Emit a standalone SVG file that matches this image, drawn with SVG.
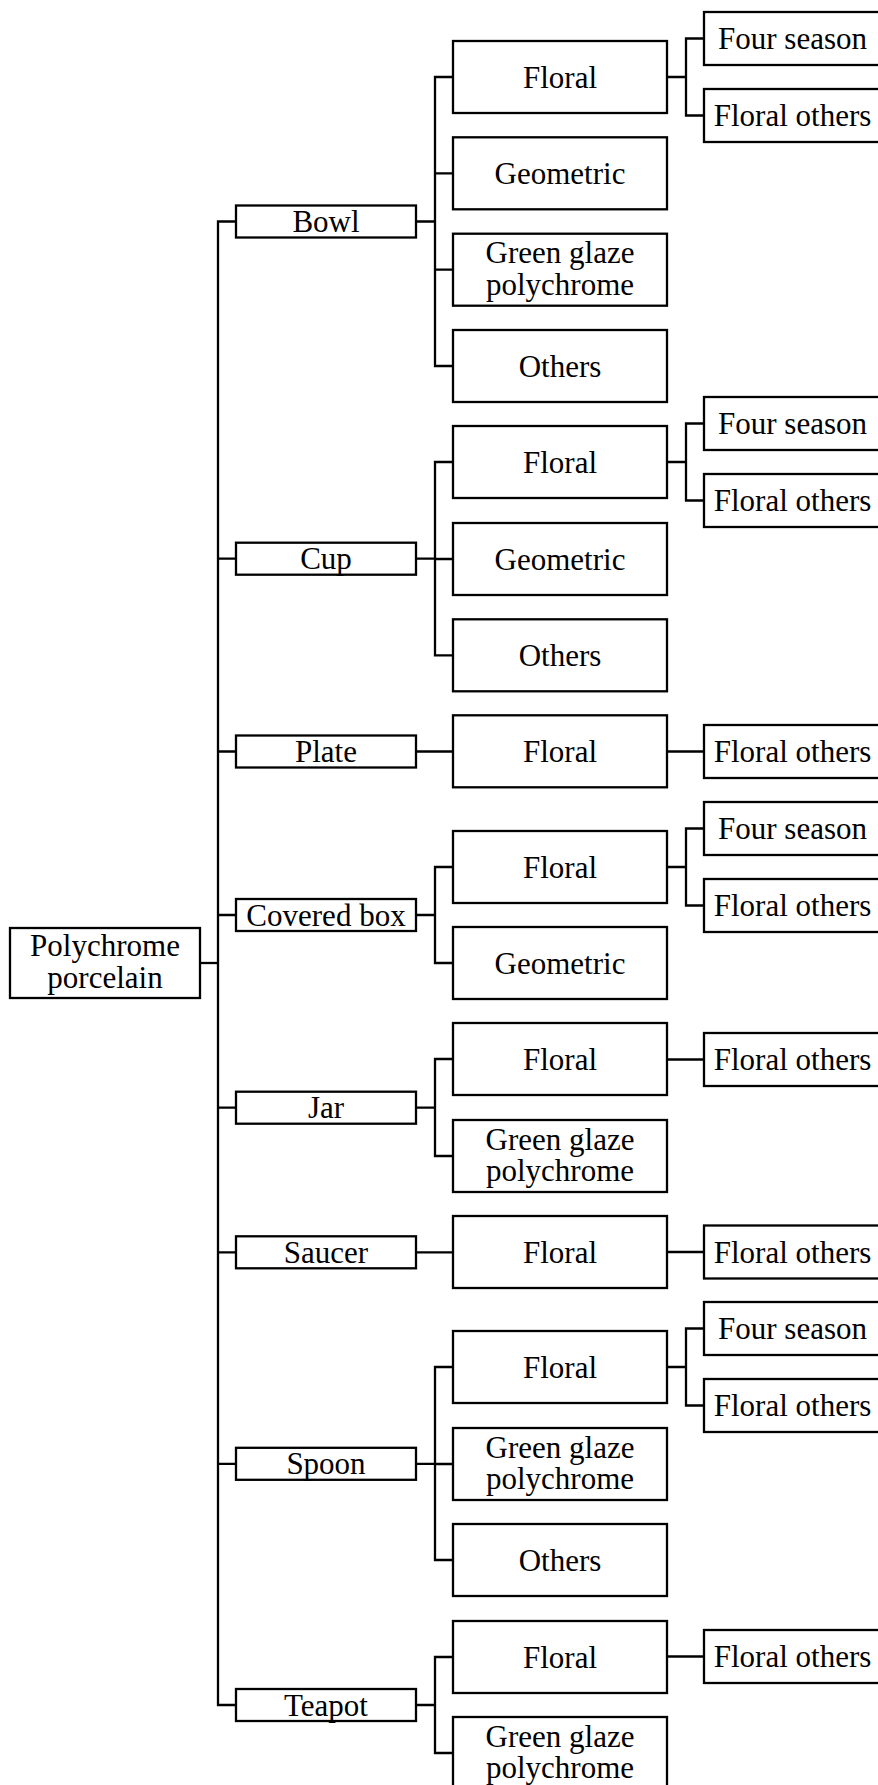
<svg xmlns="http://www.w3.org/2000/svg" width="878" height="1785" viewBox="0 0 878 1785">
<style>
.b{fill:#fff;stroke:#000;stroke-width:2.3}
.t{font-family:"Liberation Serif","Times New Roman",serif;font-size:31px;text-anchor:middle;fill:#000}
.c{fill:none;stroke:#000;stroke-width:2.3;stroke-linejoin:miter}
</style>
<rect width="878" height="1785" fill="#fff"/>
<g id="connectors" class="c">
<path d="M201,963 H218"/>
<path d="M235,221.5 H218 V1705 H235"/>
<path d="M218,558.7 H235 M218,751.5 H235 M218,915 H235 M218,1107.7 H235 M218,1252.3 H235 M218,1463.8 H235"/>
<path d="M417,221.5 H435 M452,77 H435 V366 H452 M435,173.3 H452 M435,269.7 H452"/>
<path d="M668,77 H686 M703,38.5 H686 V115.5 H703"/>
<path d="M417,558.7 H435 M452,462 H435 V655.3 H452 M435,559 H452"/>
<path d="M668,462 H686 M703,423.5 H686 V500.5 H703"/>
<path d="M417,751.5 H452 M668,751.5 H703"/>
<path d="M417,915 H435 M452,867 H435 V963 H452"/>
<path d="M668,867 H686 M703,828.5 H686 V905.5 H703"/>
<path d="M417,1107.7 H435 M452,1059 H435 V1156 H452"/>
<path d="M668,1059.5 H703"/>
<path d="M417,1252.3 H452 M668,1252 H703"/>
<path d="M417,1463.8 H435 M452,1367 H435 V1560 H452 M435,1464 H452"/>
<path d="M668,1367 H686 M703,1328.5 H686 V1405.5 H703"/>
<path d="M417,1705 H435 M452,1657 H435 V1753 H452"/>
<path d="M668,1656.5 H703"/>
</g>
<g id="root"><rect class="b" x="10" y="928" width="190" height="70"/><text class="t" x="105" y="956">Polychrome</text><text class="t" x="105" y="988">porcelain</text></g>

<g id="bowl"><rect class="b" x="236" y="205.5" width="180" height="32"/><text class="t" x="326" y="232">Bowl</text></g>
<g id="bowl-floral"><rect class="b" x="453" y="41" width="214" height="72"/><text class="t" x="560" y="87.5">Floral</text></g>
<g id="bowl-floral-four"><rect class="b" x="704" y="12" width="177" height="53"/><text class="t" x="792.5" y="49">Four season</text></g>
<g id="bowl-floral-others"><rect class="b" x="704" y="89" width="177" height="53"/><text class="t" x="792.5" y="126">Floral others</text></g>
<g id="bowl-geometric"><rect class="b" x="453" y="137.3" width="214" height="72"/><text class="t" x="560" y="183.8">Geometric</text></g>
<g id="bowl-green"><rect class="b" x="453" y="233.7" width="214" height="72"/><text class="t" x="560" y="263.3">Green glaze</text><text class="t" x="560" y="295">polychrome</text></g>
<g id="bowl-others"><rect class="b" x="453" y="330" width="214" height="72"/><text class="t" x="560" y="376.5">Others</text></g>

<g id="cup"><rect class="b" x="236" y="542.7" width="180" height="32"/><text class="t" x="326" y="569.2">Cup</text></g>
<g id="cup-floral"><rect class="b" x="453" y="426" width="214" height="72"/><text class="t" x="560" y="472.5">Floral</text></g>
<g id="cup-floral-four"><rect class="b" x="704" y="397" width="177" height="53"/><text class="t" x="792.5" y="434">Four season</text></g>
<g id="cup-floral-others"><rect class="b" x="704" y="474" width="177" height="53"/><text class="t" x="792.5" y="511">Floral others</text></g>
<g id="cup-geometric"><rect class="b" x="453" y="523" width="214" height="72"/><text class="t" x="560" y="569.5">Geometric</text></g>
<g id="cup-others"><rect class="b" x="453" y="619.3" width="214" height="72"/><text class="t" x="560" y="665.8">Others</text></g>

<g id="plate"><rect class="b" x="236" y="735.5" width="180" height="32"/><text class="t" x="326" y="762">Plate</text></g>
<g id="plate-floral"><rect class="b" x="453" y="715.3" width="214" height="72"/><text class="t" x="560" y="761.8">Floral</text></g>
<g id="plate-floral-others"><rect class="b" x="704" y="725" width="177" height="53"/><text class="t" x="792.5" y="762">Floral others</text></g>

<g id="covered-box"><rect class="b" x="236" y="899" width="180" height="32"/><text class="t" x="326" y="925.5">Covered box</text></g>
<g id="cb-floral"><rect class="b" x="453" y="831" width="214" height="72"/><text class="t" x="560" y="877.5">Floral</text></g>
<g id="cb-floral-four"><rect class="b" x="704" y="802" width="177" height="53"/><text class="t" x="792.5" y="839">Four season</text></g>
<g id="cb-floral-others"><rect class="b" x="704" y="879" width="177" height="53"/><text class="t" x="792.5" y="916">Floral others</text></g>
<g id="cb-geometric"><rect class="b" x="453" y="927" width="214" height="72"/><text class="t" x="560" y="973.5">Geometric</text></g>

<g id="jar"><rect class="b" x="236" y="1091.7" width="180" height="32"/><text class="t" x="326" y="1118.2">Jar</text></g>
<g id="jar-floral"><rect class="b" x="453" y="1023" width="214" height="72"/><text class="t" x="560" y="1069.5">Floral</text></g>
<g id="jar-floral-others"><rect class="b" x="704" y="1033" width="177" height="53"/><text class="t" x="792.5" y="1070">Floral others</text></g>
<g id="jar-green"><rect class="b" x="453" y="1120" width="214" height="72"/><text class="t" x="560" y="1149.6">Green glaze</text><text class="t" x="560" y="1181.3">polychrome</text></g>

<g id="saucer"><rect class="b" x="236" y="1236.3" width="180" height="32"/><text class="t" x="326" y="1262.8">Saucer</text></g>
<g id="saucer-floral"><rect class="b" x="453" y="1216" width="214" height="72"/><text class="t" x="560" y="1262.5">Floral</text></g>
<g id="saucer-floral-others"><rect class="b" x="704" y="1225.5" width="177" height="53"/><text class="t" x="792.5" y="1262.5">Floral others</text></g>

<g id="spoon"><rect class="b" x="236" y="1447.8" width="180" height="32"/><text class="t" x="326" y="1474.3">Spoon</text></g>
<g id="spoon-floral"><rect class="b" x="453" y="1331" width="214" height="72"/><text class="t" x="560" y="1377.5">Floral</text></g>
<g id="spoon-floral-four"><rect class="b" x="704" y="1302" width="177" height="53"/><text class="t" x="792.5" y="1339">Four season</text></g>
<g id="spoon-floral-others"><rect class="b" x="704" y="1379" width="177" height="53"/><text class="t" x="792.5" y="1416">Floral others</text></g>
<g id="spoon-green"><rect class="b" x="453" y="1428" width="214" height="72"/><text class="t" x="560" y="1457.6">Green glaze</text><text class="t" x="560" y="1489.3">polychrome</text></g>
<g id="spoon-others"><rect class="b" x="453" y="1524" width="214" height="72"/><text class="t" x="560" y="1570.5">Others</text></g>

<g id="teapot"><rect class="b" x="236" y="1689" width="180" height="32"/><text class="t" x="326" y="1715.5">Teapot</text></g>
<g id="teapot-floral"><rect class="b" x="453" y="1621" width="214" height="72"/><text class="t" x="560" y="1667.5">Floral</text></g>
<g id="teapot-floral-others"><rect class="b" x="704" y="1630" width="177" height="53"/><text class="t" x="792.5" y="1667">Floral others</text></g>
<g id="teapot-green"><rect class="b" x="453" y="1717" width="214" height="72"/><text class="t" x="560" y="1746.6">Green glaze</text><text class="t" x="560" y="1778.3">polychrome</text></g>
</svg>
